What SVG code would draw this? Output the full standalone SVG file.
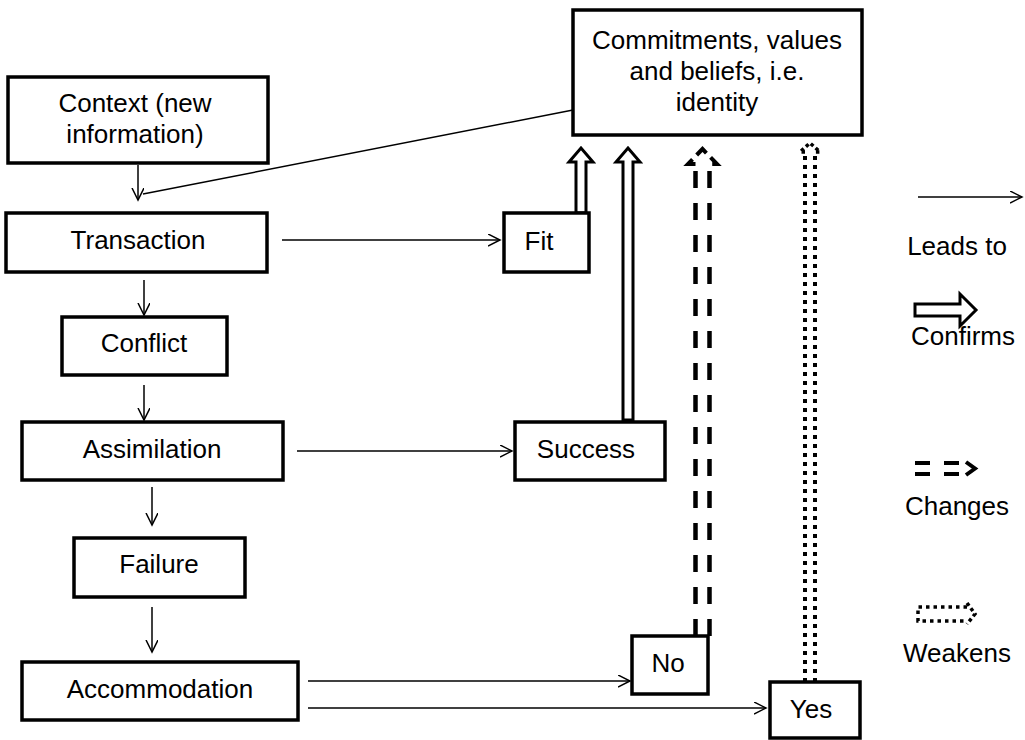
<svg xmlns="http://www.w3.org/2000/svg" width="1025" height="740" viewBox="0 0 1025 740">
<style>
.box{fill:#fff;stroke:#000;stroke-width:3.5}
.t{font-family:"Liberation Sans",Arial,sans-serif;font-size:26px;fill:#000;text-anchor:middle}
.ln{fill:none;stroke:#000;stroke-width:1.5}
.hol{fill:#fff;stroke:#000;stroke-width:3;stroke-linejoin:miter}
.dash{fill:none;stroke:#000;stroke-width:4.5;stroke-dasharray:17 15}
.dot{fill:none;stroke:#000;stroke-width:4;stroke-dasharray:4 5}
</style>
<defs>
<marker id="open" markerUnits="userSpaceOnUse" markerWidth="14" markerHeight="14" refX="12" refY="6" orient="auto">
<path d="M0,0 L12,6 L0,12" fill="none" stroke="#000" stroke-width="1.5"/>
</marker>
</defs>
<rect width="1025" height="740" fill="#fff"/>
<g id="connectors">
<line class="ln" x1="138" y1="165" x2="138" y2="200" marker-end="url(#open)"/>
<line class="ln" x1="573" y1="110" x2="143" y2="194"/>
<line class="ln" x1="144" y1="280" x2="144" y2="315" marker-end="url(#open)"/>
<line class="ln" x1="144" y1="385" x2="144" y2="420" marker-end="url(#open)"/>
<line class="ln" x1="152" y1="487" x2="152" y2="525" marker-end="url(#open)"/>
<line class="ln" x1="152" y1="607" x2="152" y2="652" marker-end="url(#open)"/>
<line class="ln" x1="282" y1="240" x2="500" y2="240" marker-end="url(#open)"/>
<line class="ln" x1="297" y1="451" x2="512" y2="451" marker-end="url(#open)"/>
<line class="ln" x1="308" y1="681" x2="630" y2="681" marker-end="url(#open)"/>
<line class="ln" x1="308" y1="708" x2="766" y2="708" marker-end="url(#open)"/>
<polygon class="hol" points="576,213 576,162 569,162 581,148 593,162 586,162 586,213"/>
<polygon class="hol" points="623,420 623,162 616,162 628,148 640,162 633,162 633,420"/>
<line class="dash" x1="695.5" y1="636" x2="695.5" y2="166"/>
<line class="dash" x1="709.5" y1="636" x2="709.5" y2="166"/>
<path class="dash" style="stroke-width:4;stroke-dasharray:14 6" d="M695.5,164 L688,164 L702.5,149 L717,164 L709.5,164"/>
<line class="dot" x1="805" y1="682" x2="805" y2="153"/>
<line class="dot" x1="815" y1="682" x2="815" y2="153"/>
<path class="dot" style="stroke-width:3.5;stroke-dasharray:3.5 3" d="M805,152 L800,152 L810,143 L820,152 L815,152"/>
</g>
<g id="identity">
<rect class="box" x="573" y="10" width="289" height="125"/>
<text class="t" x="717" y="49">Commitments, values</text>
<text class="t" x="717" y="80">and beliefs, i.e.</text>
<text class="t" x="717" y="111">identity</text>
</g>
<g id="context">
<rect class="box" x="8" y="77" width="260" height="86"/>
<text class="t" x="135" y="112">Context (new</text>
<text class="t" x="135" y="143">information)</text>
</g>
<g id="transaction">
<rect class="box" x="6" y="213" width="261" height="59"/>
<text class="t" x="138" y="249">Transaction</text>
</g>
<g id="fit">
<rect class="box" x="504" y="213" width="85" height="59"/>
<text class="t" x="539" y="250">Fit</text>
</g>
<g id="conflict">
<rect class="box" x="62" y="317" width="165" height="58"/>
<text class="t" x="144" y="352">Conflict</text>
</g>
<g id="assimilation">
<rect class="box" x="22" y="422" width="261" height="58"/>
<text class="t" x="152" y="458">Assimilation</text>
</g>
<g id="success">
<rect class="box" x="515" y="422" width="150" height="58"/>
<text class="t" x="586" y="458">Success</text>
</g>
<g id="failure">
<rect class="box" x="74" y="538" width="171" height="59"/>
<text class="t" x="159" y="573">Failure</text>
</g>
<g id="accommodation">
<rect class="box" x="22" y="662" width="276" height="58"/>
<text class="t" x="160" y="698">Accommodation</text>
</g>
<g id="no">
<rect class="box" x="632" y="636" width="76" height="58"/>
<text class="t" x="668" y="672">No</text>
</g>
<g id="yes">
<rect class="box" x="770" y="682" width="90" height="56"/>
<text class="t" x="811" y="718">Yes</text>
</g>
<g id="legend">
<line class="ln" x1="918" y1="197" x2="1022" y2="197" marker-end="url(#open)"/>
<text class="t" x="957" y="255">Leads to</text>
<polygon class="hol" points="915,304 960,304 960,294 976,310 960,326 960,316 915,316"/>
<text class="t" x="963" y="345">Confirms</text>
<path class="dash" style="stroke-width:4;stroke-dasharray:15 14" d="M915,463 L962,463"/>
<path class="dash" style="stroke-width:4;stroke-dasharray:15 14" d="M915,474 L962,474"/>
<path fill="none" stroke="#000" stroke-width="4" d="M966,462 L975,468.5 L966,475"/>
<text class="t" x="957" y="515">Changes</text>
<path class="dot" style="stroke-width:3.5;stroke-dasharray:3.5 4" d="M967,607 L918,607 L918,621 L967,621"/>
<path class="dot" style="stroke-width:3.5;stroke-dasharray:3.5 3" d="M967,603 L975,614 L967,624"/>
<text class="t" x="957" y="662">Weakens</text>
</g>
</svg>
